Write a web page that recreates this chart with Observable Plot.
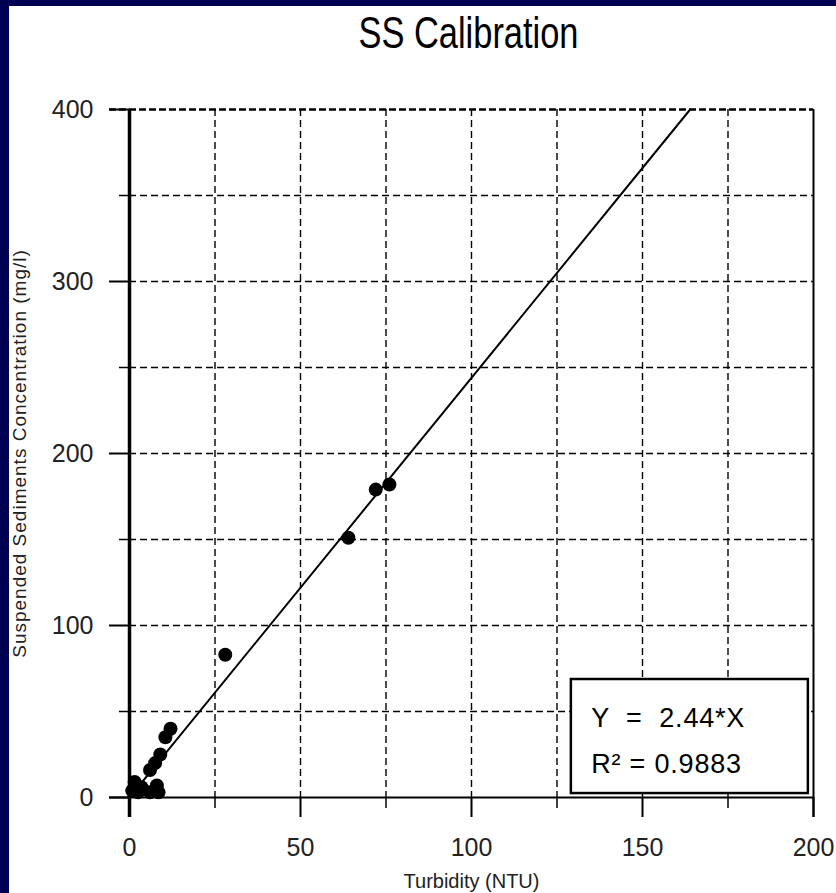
<!DOCTYPE html>
<html><head><meta charset="utf-8">
<script src="https://cdn.jsdelivr.net/npm/d3@7"></script>
<script src="https://cdn.jsdelivr.net/npm/@observablehq/plot@0.6"></script>
<style>
html,body{margin:0;padding:0;background:#000052;width:836px;height:893px;overflow:hidden}
#chart{position:absolute;left:9px;top:6px;background:#fff;width:827px;height:887px}
#chart svg{display:block;background:#fff}
#chart text{white-space:pre}
</style></head><body><div id="chart"></div>
<script>
const turbidity     = [0.8, 1.5, 2.5, 3.5, 6, 8, 8.5, 6, 7.5, 9, 10.5, 12, 28, 64, 72, 76];
const concentration = [4,   9,   3,   6,   3, 7, 3,   16, 20, 25, 35, 40, 83, 151, 179, 182];
const xTicks = [0, 50, 100, 150, 200];
const xMinorTicks = [25, 75, 125, 175];
const yTicks = [0, 100, 200, 300, 400];
const yMinorTicks = [50, 150, 250, 350];
const xGrid = [25, 50, 75, 100, 125, 150, 175];
const yGrid = [50, 100, 150, 200, 250, 300, 350];
const slope = 2.44;
const rSquared = "0.9883";
const titleText = "SS Calibration";
const xLabel = "Turbidity (NTU)";
const yLabel = "Suspended Sediments Concentration (mg/l)";
const xMax = 200, yMax = 400;

const points = turbidity.map((t, i) => ({x: t, y: concentration[i]}));
const fit = [{x: 0, y: 0}, {x: yMax / slope, y: yMax}];
const eqLines = [
  {x: 135, y: 40.7, text: "Y  =  " + slope.toFixed(2) + "*X"},
  {x: 135, y: 14.5, text: "R\u00B2 = " + rSquared}
];

const regular = "'Liberation Sans',Arial,sans-serif";

const chart = Plot.plot({
  width: 827, height: 887,
  marginLeft: 120, marginRight: 23, marginTop: 103, marginBottom: 96,
  x: {domain: [0, xMax]},
  y: {domain: [0, yMax]},
  style: {background: "white", fontFamily: regular, color: "black"},
  marks: [
    Plot.ruleX(xGrid, {stroke: "black", strokeWidth: 1.4, strokeDasharray: "7,4"}),
    Plot.ruleY(yGrid, {stroke: "black", strokeWidth: 1.4, strokeDasharray: "7,4"}),
    Plot.rect([0], {x1: 129.2, x2: 198.5, y1: 2.3, y2: 68.6, fill: "white", stroke: "black", strokeWidth: 2.5}),
    Plot.ruleY([yMax], {stroke: "black", strokeWidth: 2.5, strokeDasharray: "7,3", insetLeft: -20}),
    Plot.ruleX([xMax], {stroke: "black", strokeWidth: 2, insetBottom: -20}),
    Plot.ruleY([0], {stroke: "black", strokeWidth: 2, insetLeft: -20}),
    Plot.ruleX([0], {stroke: "black", strokeWidth: 3.5, insetBottom: -20}),
    Plot.axisX({ticks: xTicks, tickSize: 20, tickPadding: 21, fontSize: 25, stroke: "black", fill: "#222", strokeWidth: 2, label: null}),
    Plot.axisX({ticks: xMinorTicks, tickSize: 11, tickFormat: () => "", stroke: "black", strokeWidth: 1.5, label: null}),
    Plot.axisY({ticks: yTicks, tickSize: 20, tickPadding: 16, fontSize: 25, stroke: "black", fill: "#222", strokeWidth: 2, label: null}),
    Plot.axisY({ticks: yMinorTicks, tickSize: 10, tickFormat: () => "", stroke: "black", strokeWidth: 1.5, label: null}),
    Plot.line(fit, {x: "x", y: "y", stroke: "black", strokeWidth: 2}),
    Plot.dot(points, {x: "x", y: "y", r: 7, fill: "black", stroke: "none"}),
    Plot.text(eqLines, {x: "x", y: "y", text: "text", textAnchor: "start", lineAnchor: "bottom", fontSize: 27, fill: "black"}),
    Plot.text([titleText], {frameAnchor: "top", lineAnchor: "bottom", dy: -62, dx: -3, fontSize: 44, fill: "black"}),
    Plot.text([xLabel], {frameAnchor: "bottom", lineAnchor: "bottom", dy: 90, fontSize: 20, fill: "#222"}),
    Plot.text([yLabel], {frameAnchor: "left", textAnchor: "middle", rotate: -90, dx: -110, fontSize: 19, fill: "#222"})
  ]
});
document.getElementById("chart").appendChild(chart);
d3.select(chart).selectAll("text").each(function() {
  const t = this.textContent;
  if (t === yLabel) this.style.letterSpacing = "1px";
  if (t === titleText) {
    this.setAttribute("textLength", "220");
    this.setAttribute("lengthAdjust", "spacingAndGlyphs");
  }
  if (t.startsWith("Y ") || t.startsWith("R\u00B2")) this.style.letterSpacing = "0.8px";
});
</script></body></html>
